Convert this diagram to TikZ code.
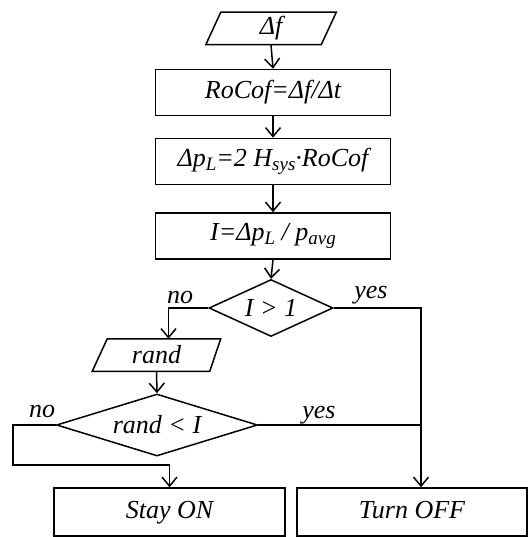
\documentclass[tikz,border=0pt]{standalone}
\usepackage{fontspec}
\setmainfont{Liberation Serif}
\usetikzlibrary{shapes.geometric,arrows.meta}
\newcommand\sbx[1]{\raisebox{-0.35ex}{\fontsize{19}{20}\selectfont #1}}
\begin{document}
\begin{tikzpicture}[x=1pt,y=-1pt,line width=1.5pt,
  every node/.style={font=\fontsize{26}{30}\selectfont\itshape, inner sep=0pt},
  box/.style={draw, minimum width=235, minimum height=46},
  endbox/.style={draw, minimum width=230, minimum height=48, text height=17pt, text depth=5pt},
  para/.style={minimum height=31},
  dia/.style={draw, diamond},
  lbl/.style={anchor=base},
  arr/.style={-{Straight Barb[length=9pt,width=15pt]}}]
\useasboundingbox (0,0) rectangle (530,537);
% nodes
\node[para, minimum width=129] (df) at (271,28.5) {Δf};
\draw ([xshift=15pt]df.north west) -- (df.north east) -- ([xshift=-15pt]df.south east) -- (df.south west) -- cycle;
\node[box] (roc) at (273,92.5) {RoCof=Δf/Δt};
\node[box] (dp) at (273,161.5) {Δp\sbx{L}=2 H\sbx{sys}·RoCof};
\node[box] (ii) at (273,236) {I=Δp\sbx{L} / p\sbx{avg}};
\node[dia, aspect=2.18, minimum width=124, minimum height=57] (d1) at (271,308) {I > 1};
\node[para, minimum width=127] (rnd) at (156.5,355) {rand};
\draw ([xshift=15pt]rnd.north west) -- (rnd.north east) -- ([xshift=-11pt]rnd.south east) -- (rnd.south west) -- cycle;
\node[dia, aspect=3.24, minimum width=201, minimum height=62] (d2) at (157,425) {rand < I};
\node[endbox, minimum width=231] (stay) at (169.5,512) {Stay ON};
\node[endbox] (off) at (412,512) {Turn OFF};
\coordinate (offin) at ([xshift=9pt]off.north);
\coordinate (rndin) at ([xshift=12pt]rnd.north);
\coordinate (nol) at (13,465);
% connectors
\draw[arr] (df.south) -- (roc.north);
\draw[arr] (roc.south) -- (dp.north);
\draw[arr] (dp.south) -- (ii.north);
\draw[arr] (ii.south) -- (d1.north);
\draw[arr] (d1.west) -| (rndin);
\draw[arr] (rnd.south) -- (d2.north);
\draw[arr] (d1.east) -| (offin);
\draw (d2.east) -- (d2.east -| offin);
\draw[arr] (d2.west) -- (d2.west -| nol) -- (nol) -| (stay.north);
% labels
\node[lbl] (l1) at (180,303) {no};
\node[lbl] (l2) at (371,298) {yes};
\node[lbl] (l3) at (42,417) {no};
\node[lbl] (l4) at (319,418) {yes};
\end{tikzpicture}
\end{document}
